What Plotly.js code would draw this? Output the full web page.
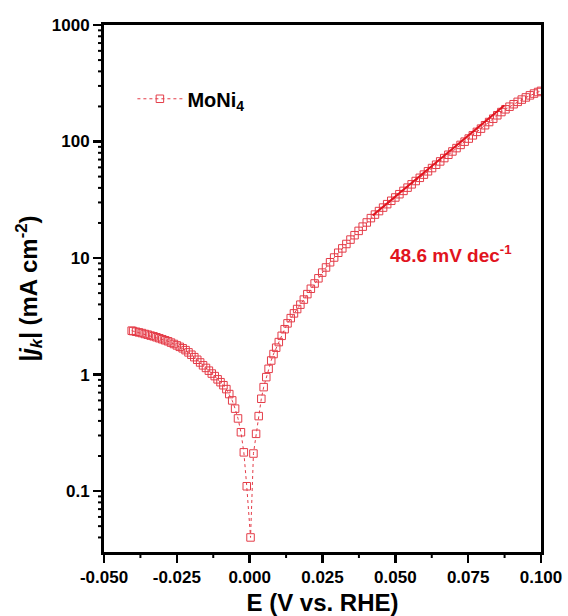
<!DOCTYPE html>
<html>
<head>
<meta charset="utf-8">
<script src="https://cdn.plot.ly/plotly-3.0.1.min.js"></script>
<style>html,body{margin:0;padding:0;background:#fff;}#chart{width:568px;height:616px;}</style>
</head>
<body>
<div id="chart"></div>
<script>
// Potential E (V vs. RHE)
const potential = [
  -0.0405, -0.040, -0.039, -0.038, -0.037, -0.036, -0.035, -0.034, -0.033, -0.032,
  -0.031, -0.030, -0.029, -0.028, -0.027, -0.026, -0.025, -0.024, -0.023, -0.022,
  -0.021, -0.020, -0.019, -0.018, -0.017, -0.016, -0.015, -0.014, -0.013, -0.012,
  -0.011, -0.010, -0.009, -0.008, -0.007, -0.006, -0.005, -0.004, -0.003, -0.002,
  -0.001, 0.0003, 0.0013, 0.0022, 0.0031, 0.0040, 0.0048, 0.0057, 0.0065, 0.0074,
  0.0082, 0.0091, 0.0100, 0.0110, 0.0120, 0.0130, 0.0141, 0.0152, 0.0163, 0.0174,
  0.0186, 0.0198, 0.0210, 0.0223, 0.0236, 0.0249, 0.0262, 0.0276, 0.0290, 0.0304,
  0.0318, 0.0332, 0.0346, 0.0360, 0.0374, 0.0388, 0.0402, 0.0416, 0.0430, 0.0444,
  0.0458, 0.0472, 0.0486, 0.0500, 0.0514, 0.0528, 0.0542, 0.0556, 0.0570, 0.0584,
  0.0598, 0.0612, 0.0626, 0.0640, 0.0654, 0.0668, 0.0682, 0.0696, 0.0710, 0.0724,
  0.0738, 0.0752, 0.0766, 0.0780, 0.0794, 0.0808, 0.0822, 0.0836, 0.0850, 0.0864,
  0.0878, 0.0892, 0.0906, 0.0920, 0.0934, 0.0948, 0.0962, 0.0976, 0.0990, 0.1000
];
// |jk| (mA cm^-2) for MoNi4
const currentMoNi4 = [
  2.38, 2.36, 2.33, 2.30, 2.27, 2.23, 2.20, 2.16, 2.13, 2.09,
  2.05, 2.01, 1.97, 1.93, 1.88, 1.83, 1.78, 1.73, 1.68, 1.62,
  1.55, 1.48, 1.41, 1.34, 1.27, 1.20, 1.14, 1.08, 1.02, 0.97,
  0.91, 0.86, 0.81, 0.75, 0.68, 0.60, 0.51, 0.42, 0.32, 0.215,
  0.11, 0.040, 0.21, 0.31, 0.44, 0.62, 0.78, 0.95, 1.12, 1.32,
  1.50, 1.70, 1.90, 2.15, 2.45, 2.75, 3.05, 3.35, 3.65, 3.98,
  4.4, 4.9, 5.45, 6.05, 6.7, 7.5, 8.3, 9.2, 10.1, 11.1,
  12.1, 13.2, 14.4, 15.7, 17.1, 18.6, 20.2, 22.0, 23.6, 25.3,
  27.1, 29.0, 31.0, 33.1, 35.3, 37.7, 40.2, 42.9, 45.8, 48.8,
  52.0, 55.5, 59.2, 63.2, 67.5, 72.1, 77.0, 82.2, 87.8, 93.5,
  99.7, 106, 113, 121, 129, 138, 147, 157, 168, 179,
  189, 199, 209, 219, 229, 239, 249, 258, 266, 272
];
// Tafel fit line end points
const fitPotential = [0.0422, 0.0874];
const fitCurrent = [23.2, 204];

const seriesName = 'MoNi<sub>4</sub>';
const slopeLabel = '48.6 mV dec<sup>-1</sup>';
const xTickVals = [-0.05, -0.025, 0, 0.025, 0.05, 0.075, 0.1];
const xTickText = ['-0.050', '-0.025', '0.000', '0.025', '0.050', '0.075', '0.100'];
const xMinorVals = [-0.0375, -0.0125, 0.0125, 0.0375, 0.0625, 0.0875];
const yTickVals = [0.1, 1, 10, 100, 1000];
const yTickText = ['0.1', '1', '10', '100', '1000'];
const yRangeVals = [0.03, 1000];

// minor log ticks (2..9 in each decade), kept inside the axis range
const yMinorVals = [];
[0.01, 0.1, 1, 10, 100].forEach(function (d) {
  for (let m = 2; m <= 9; m++) {
    const v = +(m * d).toPrecision(3);
    if (v > yRangeVals[0] && v < yRangeVals[1]) yMinorVals.push(v);
  }
});

const red = 'rgb(228,60,72)';
const fitRed = 'rgb(225,20,30)';
const font = 'Arial, "Liberation Sans", sans-serif';
const yRange = [Math.log10(yRangeVals[0]), Math.log10(yRangeVals[1])];

// minor tick marks drawn as short lines just outside the axes
const plotW = 568 - 104 - 27, plotH = 616 - 25 - 64;
const minorLen = 4.5;
const shapes = [];
yMinorVals.forEach(function (v) {
  shapes.push({type: 'line', xref: 'paper', yref: 'y', layer: 'above',
    x0: -(minorLen + 1.5) / plotW, x1: 0, y0: v, y1: v,
    line: {color: '#000', width: 2}});
});
xMinorVals.forEach(function (v) {
  shapes.push({type: 'line', xref: 'x', yref: 'paper', layer: 'above',
    x0: v, x1: v, y0: -(minorLen + 1.5) / plotH, y1: 0,
    line: {color: '#000', width: 2}});
});

const traces = [
  {
    x: potential, y: currentMoNi4, name: seriesName, type: 'scatter', mode: 'lines+markers',
    line: {color: red, width: 1, dash: 'dot'},
    marker: {symbol: 'square-open', size: 7.5, color: red, line: {width: 1, color: red}}
  },
  {
    x: fitPotential, y: fitCurrent, type: 'scatter', mode: 'lines', showlegend: false,
    line: {color: fitRed, width: 2}
  }
];

const layout = {
  width: 568, height: 616,
  margin: {l: 104, r: 27, t: 25, b: 64},
  paper_bgcolor: '#fff', plot_bgcolor: '#fff',
  font: {family: font, color: '#000'},
  showlegend: true,
  legend: {x: 0.065, y: 0.86, xanchor: 'left', yanchor: 'middle', bgcolor: 'rgba(0,0,0,0)',
           itemwidth: 45,
           font: {family: font, size: 20, weight: 'bold', color: '#000'}},
  xaxis: {
    range: [-0.05, 0.1], tickmode: 'array', tickvals: xTickVals, ticktext: xTickText,
    showline: true, linecolor: '#000', linewidth: 3, mirror: true,
    ticks: 'outside', ticklen: 8, tickwidth: 2.5, tickcolor: '#000',
    showgrid: false, zeroline: false,
    tickfont: {family: font, size: 17, weight: 'bold', color: '#000'},
    title: {text: 'E (V vs. RHE)', font: {family: font, size: 24, weight: 'bold', color: '#000'}, standoff: 9}
  },
  yaxis: {
    type: 'log', range: yRange, tickmode: 'array', tickvals: yTickVals, ticktext: yTickText,
    showline: true, linecolor: '#000', linewidth: 3, mirror: true,
    ticks: 'outside', ticklen: 8, tickwidth: 2.5, tickcolor: '#000',
    showgrid: false, zeroline: false,
    tickfont: {family: font, size: 17, weight: 'bold', color: '#000'},
    title: {text: '|<i>j</i><sub><i>k</i></sub>| (mA cm<sup>-2</sup>)', font: {family: font, size: 24, weight: 'bold', color: '#000'}, standoff: 8}
  },
  shapes: shapes,
  annotations: [{
    x: 0.0692, y: Math.log10(10.9), xref: 'x', yref: 'y', text: slopeLabel, showarrow: false,
    font: {family: font, size: 19, weight: 'bold', color: fitRed}
  }]
};

Plotly.newPlot('chart', traces, layout, {displayModeBar: false, staticPlot: true});
</script>
</body>
</html>
